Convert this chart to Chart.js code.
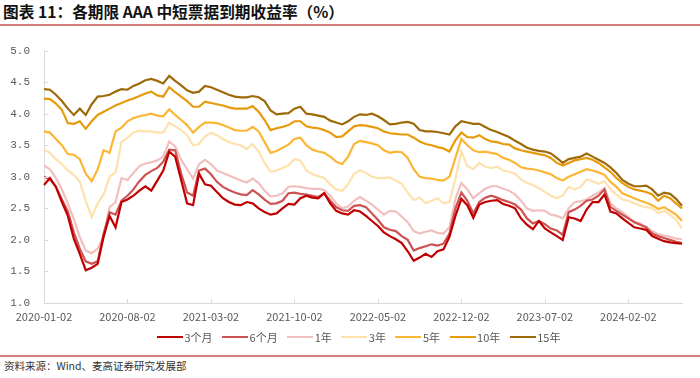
<!DOCTYPE html>
<html>
<head>
<meta charset="utf-8">
<script src="https://cdn.jsdelivr.net/npm/chart.js"></script>
<style>
  html, body { margin:0; padding:0; background:#fff; }
  #wrap { position:relative; width:700px; height:378px; overflow:hidden; background:#fff; font-family:"Noto Sans CJK SC", sans-serif; }
  #title { position:absolute; left:3px; top:2px; font-size:15.7px; font-weight:bold; color:#111; white-space:nowrap; line-height:20px; }
  .rule { position:absolute; left:0; width:700px; height:2px; background:#d4817d; }
  #chartBox { position:absolute; left:0; top:30px; width:700px; height:310px; }
  #legend { position:absolute; left:157px; top:330px; height:14px; display:flex; align-items:center; white-space:nowrap; }
  .item { display:flex; align-items:center; margin-right:9.5px; font-size:11px; color:#595959; line-height:14px; }
  .swatch { display:inline-block; width:26px; height:2px; margin-right:1.5px; }
  #source { position:absolute; left:4px; top:359px; font-size:10.5px; color:#333; white-space:nowrap; line-height:14px; }
</style>
</head>
<body>
<div id="wrap">
  <div id="title">图表 11：各期限 AAA 中短票据到期收益率（%）</div>
  <div class="rule" style="top:24px"></div>
  <div id="chartBox"><canvas id="c" width="700" height="310"></canvas></div>
  <div id="legend"></div>
  <div class="rule" style="top:355px"></div>
  <div id="source">资料来源：Wind、麦高证券研究发展部</div>
</div>
<script>
const dates = [
"2020-01-02","2020-01-16","2020-02-02","2020-02-16","2020-03-02","2020-03-16","2020-04-02","2020-04-16","2020-05-02","2020-05-16","2020-06-02","2020-06-16",
"2020-07-02","2020-07-16","2020-08-02","2020-08-16","2020-09-02","2020-09-16","2020-10-02","2020-10-16","2020-11-02","2020-11-16","2020-12-02","2020-12-16",
"2021-01-02","2021-01-16","2021-02-02","2021-02-16","2021-03-02","2021-03-16","2021-04-02","2021-04-16","2021-05-02","2021-05-16","2021-06-02","2021-06-16",
"2021-07-02","2021-07-16","2021-08-02","2021-08-16","2021-09-02","2021-09-16","2021-10-02","2021-10-16","2021-11-02","2021-11-16","2021-12-02","2021-12-16",
"2022-01-02","2022-01-16","2022-02-02","2022-02-16","2022-03-02","2022-03-16","2022-04-02","2022-04-16","2022-05-02","2022-05-16","2022-06-02","2022-06-16",
"2022-07-02","2022-07-16","2022-08-02","2022-08-16","2022-09-02","2022-09-16","2022-10-02","2022-10-16","2022-11-02","2022-11-16","2022-12-02","2022-12-16",
"2023-01-02","2023-01-16","2023-02-02","2023-02-16","2023-03-02","2023-03-16","2023-04-02","2023-04-16","2023-05-02","2023-05-16","2023-06-02","2023-06-16",
"2023-07-02","2023-07-16","2023-08-02","2023-08-16","2023-09-02","2023-09-16","2023-10-02","2023-10-16","2023-11-02","2023-11-16","2023-12-02","2023-12-16",
"2024-01-02","2024-01-16","2024-02-02","2024-02-16","2024-03-02","2024-03-16","2024-04-02","2024-04-16","2024-05-02","2024-05-16","2024-06-02","2024-06-16"
];

const tickLabels = ["2020-01-02","2020-08-02","2021-03-02","2021-10-02","2022-05-02","2022-12-02","2023-07-02","2024-02-02"];
const yTicks = [1.0,1.5,2.0,2.5,3.0,3.5,4.0,4.5,5.0];

const seriesNames = ["3个月","6个月","1年","3年","5年","10年","15年"];
const seriesColors = ["#c00000","#cd5252","#f2bfbf","#fde2ad","#fbb636","#e69b0c","#9e6a08"];

const y3M = [
2.87,2.98,2.84,2.60,2.38,2.02,1.78,1.52,1.56,1.62,2.05,2.38,2.20,2.60,2.64,2.70,2.78,2.85,2.78,2.94,3.10,3.40,3.32,2.95,2.58,2.55,3.05,2.88,
2.86,2.76,2.66,2.60,2.56,2.55,2.60,2.58,2.50,2.44,2.40,2.42,2.50,2.57,2.56,2.66,2.70,2.67,2.66,2.74,2.58,2.46,2.42,2.40,2.47,2.45,
2.38,2.30,2.22,2.12,2.06,2.01,1.95,1.82,1.67,1.72,1.78,1.73,1.82,1.85,2.05,2.38,2.65,2.55,2.35,2.56,2.60,2.62,2.63,2.57,2.54,2.50,
2.34,2.24,2.17,2.30,2.18,2.12,2.06,2.00,2.36,2.34,2.30,2.48,2.60,2.60,2.72,2.45,2.42,2.34,2.27,2.20,2.18,2.16,2.06,2.02,1.98,1.96,1.95,1.94
];
const y6M = [
3.00,2.96,2.84,2.64,2.45,2.12,1.86,1.66,1.62,1.66,2.10,2.44,2.40,2.62,2.70,2.80,2.93,3.03,3.09,3.14,3.24,3.43,3.42,3.05,2.75,2.70,3.10,3.13,
3.04,2.92,2.84,2.79,2.75,2.72,2.71,2.79,2.72,2.64,2.57,2.58,2.62,2.74,2.75,2.73,2.72,2.70,2.68,2.74,2.62,2.52,2.47,2.46,2.54,2.55,
2.52,2.42,2.32,2.20,2.16,2.14,2.06,2.00,1.83,1.87,1.90,1.93,1.91,1.94,2.10,2.50,2.75,2.62,2.42,2.60,2.67,2.70,2.67,2.63,2.60,2.56,
2.48,2.34,2.26,2.30,2.25,2.18,2.15,2.08,2.44,2.48,2.54,2.62,2.64,2.70,2.80,2.52,2.46,2.40,2.34,2.28,2.24,2.20,2.10,2.06,2.03,2.00,1.97,1.95
];
const y1Y = [
3.18,3.12,2.98,2.80,2.58,2.33,2.05,1.83,1.79,1.86,2.05,2.52,2.60,2.98,2.95,3.06,3.17,3.21,3.23,3.26,3.32,3.56,3.48,3.27,3.12,2.97,3.20,3.27,
3.20,3.10,3.06,3.02,2.98,2.94,2.91,2.97,2.90,2.78,2.69,2.70,2.74,2.84,2.85,2.84,2.82,2.81,2.81,2.79,2.70,2.58,2.50,2.53,2.62,2.68,
2.62,2.56,2.48,2.40,2.46,2.45,2.37,2.28,2.14,2.10,2.13,2.15,2.11,2.10,2.20,2.65,2.90,2.80,2.66,2.74,2.81,2.85,2.85,2.81,2.78,2.72,
2.62,2.50,2.46,2.47,2.46,2.40,2.38,2.34,2.50,2.60,2.61,2.64,2.70,2.75,2.82,2.58,2.50,2.44,2.36,2.29,2.26,2.20,2.14,2.09,2.07,2.05,2.02,2.01
];
const y3Y = [
3.43,3.38,3.28,3.20,3.10,3.03,2.92,2.62,2.36,2.58,2.72,3.00,3.07,3.55,3.62,3.70,3.73,3.72,3.72,3.70,3.70,3.86,3.80,3.74,3.66,3.50,3.52,3.64,
3.70,3.66,3.60,3.55,3.52,3.50,3.44,3.52,3.40,3.22,3.08,3.10,3.14,3.18,3.28,3.26,3.10,3.04,3.01,2.98,2.88,2.80,2.78,2.88,3.05,3.10,
3.06,3.00,2.98,2.98,2.99,2.94,2.89,2.75,2.63,2.67,2.58,2.62,2.66,2.58,2.60,2.97,3.40,3.17,3.12,3.22,3.16,3.14,3.16,3.10,3.08,3.05,
2.96,2.90,2.87,2.82,2.76,2.70,2.66,2.70,2.84,2.80,2.84,2.96,2.93,2.89,2.93,2.80,2.72,2.64,2.62,2.58,2.54,2.52,2.50,2.43,2.46,2.40,2.32,2.18
];
const y5Y = [
3.72,3.70,3.60,3.50,3.36,3.35,3.28,3.05,2.93,3.12,3.42,3.38,3.72,3.78,3.88,3.93,3.96,3.98,4.00,3.97,3.96,4.07,3.98,3.90,3.82,3.70,3.79,3.86,
3.86,3.85,3.82,3.78,3.74,3.73,3.73,3.79,3.72,3.55,3.38,3.41,3.46,3.51,3.60,3.62,3.50,3.43,3.40,3.38,3.32,3.24,3.20,3.32,3.52,3.57,
3.55,3.53,3.50,3.42,3.38,3.40,3.39,3.30,3.12,3.00,2.98,2.97,2.95,2.94,3.00,3.30,3.60,3.50,3.42,3.39,3.40,3.38,3.36,3.30,3.27,3.22,
3.15,3.13,3.12,3.10,3.07,3.04,2.98,2.94,3.00,3.04,3.08,3.12,3.10,3.07,3.03,2.92,2.84,2.74,2.70,2.66,2.62,2.59,2.55,2.49,2.52,2.46,2.40,2.30
];
const y10Y = [
4.24,4.23,4.16,4.06,3.85,3.84,3.88,3.76,3.88,3.98,4.03,4.08,4.13,4.17,4.21,4.24,4.28,4.32,4.35,4.29,4.27,4.42,4.34,4.27,4.20,4.11,4.11,4.19,
4.17,4.15,4.13,4.10,4.08,4.08,4.08,4.12,4.03,3.90,3.74,3.77,3.79,3.82,3.88,3.88,3.80,3.78,3.77,3.74,3.70,3.63,3.64,3.72,3.80,3.82,
3.81,3.79,3.77,3.72,3.69,3.68,3.67,3.67,3.62,3.56,3.52,3.50,3.47,3.45,3.40,3.58,3.70,3.63,3.62,3.66,3.60,3.56,3.55,3.52,3.51,3.45,
3.42,3.40,3.38,3.36,3.34,3.30,3.22,3.18,3.22,3.26,3.28,3.30,3.27,3.22,3.15,3.08,2.98,2.90,2.84,2.80,2.78,2.76,2.72,2.62,2.70,2.66,2.58,2.50
];
const y15Y = [
4.39,4.38,4.30,4.20,4.08,3.98,4.08,3.98,4.15,4.27,4.28,4.30,4.35,4.39,4.38,4.44,4.48,4.53,4.55,4.52,4.48,4.60,4.52,4.45,4.37,4.33,4.35,4.44,
4.42,4.38,4.34,4.30,4.27,4.26,4.26,4.28,4.26,4.20,4.05,3.99,4.00,4.01,4.08,4.11,4.00,3.99,3.97,3.95,3.89,3.86,3.83,3.88,3.95,3.99,
3.98,4.00,3.96,3.90,3.83,3.84,3.86,3.87,3.84,3.74,3.72,3.72,3.71,3.69,3.67,3.80,3.88,3.86,3.84,3.84,3.79,3.74,3.71,3.67,3.63,3.57,
3.52,3.46,3.43,3.41,3.40,3.37,3.30,3.22,3.28,3.30,3.32,3.37,3.32,3.27,3.22,3.15,3.06,2.95,2.89,2.85,2.85,2.86,2.80,2.70,2.75,2.73,2.65,2.54
];

const seriesValues = [y3M, y6M, y1Y, y3Y, y5Y, y10Y, y15Y];

// HTML legend built from the series names/colours
const legendEl = document.getElementById('legend');
seriesNames.forEach((name, i) => {
  const it = document.createElement('span'); it.className = 'item';
  const sw = document.createElement('span'); sw.className = 'swatch'; sw.style.background = seriesColors[i];
  const tx = document.createElement('span'); tx.textContent = name;
  it.appendChild(sw); it.appendChild(tx); legendEl.appendChild(it);
});

const axisColor = '#d9d9d9';
const innerTicks = {
  id: 'innerTicks',
  afterDraw(chart) {
    const {ctx, chartArea: {left, bottom}, scales: {x, y}} = chart;
    ctx.save();
    ctx.strokeStyle = axisColor; ctx.lineWidth = 1;
    y.ticks.forEach(t => {
      const py = Math.round(y.getPixelForValue(t.value)) + 0.5;
      ctx.beginPath(); ctx.moveTo(left, py); ctx.lineTo(left + 4, py); ctx.stroke();
    });
    x.ticks.forEach(t => {
      const px = Math.round(x.getPixelForValue(t.value)) + 0.5;
      ctx.beginPath(); ctx.moveTo(px, bottom); ctx.lineTo(px, bottom - 4); ctx.stroke();
    });
    ctx.restore();
  }
};

new Chart(document.getElementById('c'), {
  type: 'line',
  data: {
    labels: dates,
    datasets: seriesNames.map((name, i) => ({
      label: name,
      data: seriesValues[i],
      borderColor: seriesColors[i],
      backgroundColor: seriesColors[i],
      borderWidth: 2.2,
      pointRadius: 0,
      tension: 0,
      fill: false
    }))
  },
  options: {
    responsive: false,
    animation: false,
    devicePixelRatio: 1,
    layout: { padding: { top: 16, right: 18, left: 0, bottom: 0 } },
    plugins: { legend: { display: false }, tooltip: { enabled: false } },
    scales: {
      x: {
        type: 'category',
        offset: false,
        grid: { display: false, drawTicks: false },
        border: { display: true, color: axisColor, width: 1 },
        afterBuildTicks: (scale) => {
          scale.ticks = scale.ticks.filter(t => tickLabels.includes(dates[t.value]));
        },
        afterFit: (scale) => { scale.height = 37; },
        ticks: {
          autoSkip: false, maxRotation: 0, minRotation: 0, padding: 7,
          color: '#595959',
          font: { family: '"Noto Sans CJK SC", sans-serif', size: 11 },
          callback: function(v) { return dates[v]; }
        }
      },
      y: {
        min: 1, max: 5,
        grid: { display: false, drawTicks: false },
        border: { display: true, color: axisColor, width: 1 },
        afterBuildTicks: (scale) => { scale.ticks = yTicks.map(v => ({ value: v })); },
        afterFit: (scale) => { scale.width = 44; },
        ticks: {
          padding: 14,
          color: '#595959',
          font: { family: '"Liberation Mono", monospace', size: 11 },
          callback: (v) => Number(v).toFixed(1)
        }
      }
    }
  },
  plugins: [innerTicks]
});
</script>
</body>
</html>
